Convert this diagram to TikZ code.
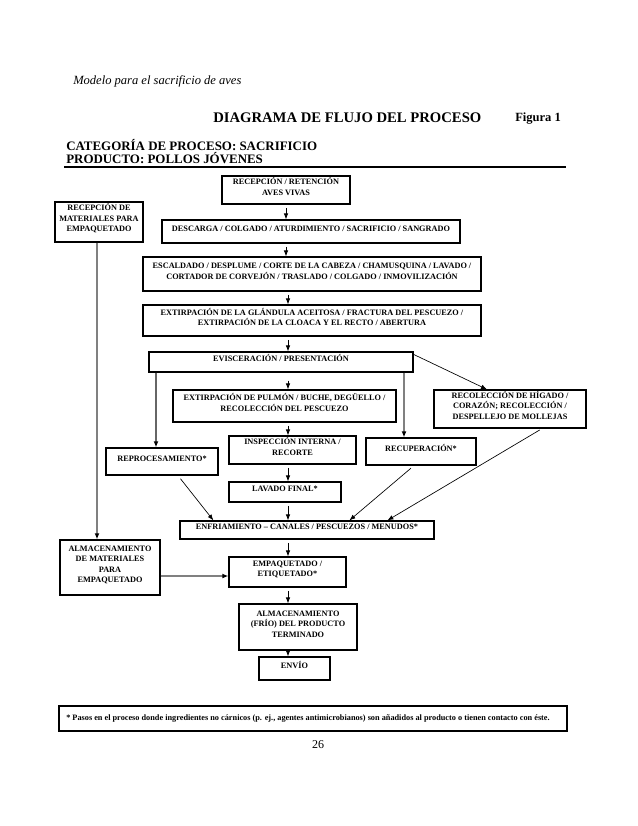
\documentclass[tikz,border=0pt]{standalone}
\usepackage{fontspec}
\setmainfont{Liberation Serif}
\usetikzlibrary{arrows.meta,fit,calc}
\begin{document}
\begin{tikzpicture}[x=0.75pt,y=-0.75pt,
  box/.style={draw=black,line width=0.9pt,inner sep=0pt,align=center,
    font=\bfseries\fontsize{6.2}{7.9}\selectfont},
  lbox/.style={box,align=left},
  arr/.style={-{Latex[length=4.5pt,width=3.4pt]},line width=0.6pt,shorten <=2.5pt},
  garr/.style={line width=1.6pt,draw=black!50,
    -{Latex[length=4.5pt,width=3.6pt,color=black]}},
  diag/.style={-{Latex[length=4.5pt,width=3.4pt]},line width=0.5pt},
  hdr/.style={inner sep=0pt,anchor=west},
]
\useasboundingbox (0,0) rectangle (638,826);
\fill[white] (0,0) rectangle (638,826);

% header
\node[hdr,font=\itshape\fontsize{9.4}{11}\selectfont] (modelo) at (73,81) {Modelo para el sacrificio de aves};
\node[hdr,font=\bfseries\fontsize{11}{13}\selectfont] (titulo) at (213,118) {DIAGRAMA DE FLUJO DEL PROCESO};
\node[hdr,font=\bfseries\fontsize{9.4}{11}\selectfont] (figura) at (515,119) {Figura 1};
\node[hdr,font=\bfseries\fontsize{9.7}{11}\selectfont] (cat) at (66,145) {CATEGORÍA DE PROCESO: SACRIFICIO};
\node[hdr,font=\bfseries\fontsize{9.7}{11}\selectfont] (prod) at (66,158) {PRODUCTO: POLLOS JÓVENES};
\coordinate (ruleL) at (64,167);
\coordinate (ruleR) at (566,167);
\draw[line width=1.4pt] (ruleL) -- (ruleR);

% boxes
\node[box,fit={(222,176)(350,204)}] (recep) {RECEPCIÓN / RETENCIÓN\\AVES VIVAS};
\node[box,fit={(55,202)(143,242)}] (recmat) {RECEPCIÓN DE\\MATERIALES PARA\\EMPAQUETADO};
\node[box,fit={(162,220)(460,243)}] (desc) {DESCARGA / COLGADO / ATURDIMIENTO / SACRIFICIO / SANGRADO};
\node[lbox,fit={(143,257)(481,291)}] (escal) {ESCALDADO / DESPLUME / CORTE DE LA CABEZA / CHAMUSQUINA / LAVADO /\\CORTADOR DE CORVEJÓN / TRASLADO / COLGADO / INMOVILIZACIÓN};
\node[box,fit={(143,305)(481,336)}] (glan) {EXTIRPACIÓN DE LA GLÁNDULA ACEITOSA / FRACTURA DEL PESCUEZO /\\EXTIRPACIÓN DE LA CLOACA Y EL RECTO / ABERTURA};
\node[box,fit={(149,352)(413,372)}] (evis) {EVISCERACIÓN / PRESENTACIÓN};
\node[box,fit={(173,390)(396,422)}] (pulm) {EXTIRPACIÓN DE PULMÓN / BUCHE, DEGÜELLO /\\RECOLECCIÓN DEL PESCUEZO};
\node[lbox,fit={(434,390)(586,428)}] (hig) {RECOLECCIÓN DE HÍGADO /\\CORAZÓN; RECOLECCIÓN /\\DESPELLEJO DE MOLLEJAS};
\node[box,fit={(229,436)(356,464)}] (insp) {INSPECCIÓN INTERNA /\\RECORTE};
\node[box,fit={(366,438)(476,465)}] (recup) {RECUPERACIÓN*};
\node[box,fit={(106,448)(218,475)}] (repro) {REPROCESAMIENTO*};
\node[box,fit={(229,482)(341,502)}] (lav) {LAVADO FINAL*};
\node[box,fit={(180,521)(434,539)}] (enfr) {ENFRIAMIENTO – CANALES / PESCUEZOS / MENUDOS*};
\node[box,fit={(60,540)(160,595)}] (almmat) {ALMACENAMIENTO\\DE MATERIALES\\PARA\\EMPAQUETADO};
\node[box,fit={(229,557)(346,587)}] (empaq) {EMPAQUETADO /\\ETIQUETADO*};
\node[box,fit={(239,604)(357,650)}] (almfrio) {ALMACENAMIENTO\\(FRÍO) DEL PRODUCTO\\TERMINADO};
\node[box,fit={(259,657)(330,680)}] (envio) {ENVÍO};
\node[box,fit={(59,706)(567,731)}] (fnbox) {};
\node[hdr,font=\bfseries\fontsize{6.2}{7}\selectfont] (fn) at (66,718.5) {* Pasos en el proceso donde ingredientes no cárnicos (p. ej., agentes antimicrobianos) son añadidos al producto o tienen contacto con éste.};
\node[inner sep=0pt,font=\fontsize{9}{11}\selectfont] (pag) at (318,745) {26};

% main column
\coordinate (col) at (288,0);
\draw[arr] (recep.south) -- (desc.north -| recep.south);
\draw[arr] (desc.south -| recep.south) -- (escal.north -| recep.south);
\draw[arr] (escal.south -| col) -- (glan.north -| col);
\draw[arr] (glan.south -| col) -- (evis.north -| col);
\draw[arr,shorten <=6pt] (evis.south -| col) -- (pulm.north -| col);
\draw[arr] (pulm.south -| col) -- (insp.north -| col);
\draw[arr] (insp.south -| col) -- (lav.north -| col);
\draw[arr] (lav.south -| col) -- (enfr.north -| col);
\draw[arr] (enfr.south -| col) -- (empaq.north -| col);
\draw[arr] (empaq.south -| col) -- (almfrio.north -| col);
\draw[arr] (almfrio.south -| col) -- (envio.north -| col);

% side branches
\coordinate (lcol) at (156,0);
\coordinate (rcol) at (404,0);
\draw[garr,draw=black!60] (evis.south -| lcol) -- (repro.north -| lcol);
\draw[garr] (evis.south -| rcol) -- (recup.north -| rcol);
\draw[diag] ($(evis.north east)+(0,3)$) -- ($(hig.north)+(-23,0)$);
\draw[diag,shorten <=3pt] ($(repro.south)+(16,0)$) -- ($(enfr.north west)+(34,0)$);
\draw[diag,shorten <=3pt] ($(recup.south)+(-7,0)$) -- ($(enfr.north west)+(170,0)$);
\draw[diag,shorten <=2pt] ($(hig.south)+(32,0)$) -- ($(enfr.north west)+(208,0)$);

% packaging materials
\coordinate (mcol) at (97,0);
\draw[garr] (recmat.south -| mcol) -- (almmat.north -| mcol);
\coordinate (mrow) at (0,576);
\draw[garr] (almmat.east |- mrow) -- (empaq.west |- mrow);
\end{tikzpicture}
\end{document}
